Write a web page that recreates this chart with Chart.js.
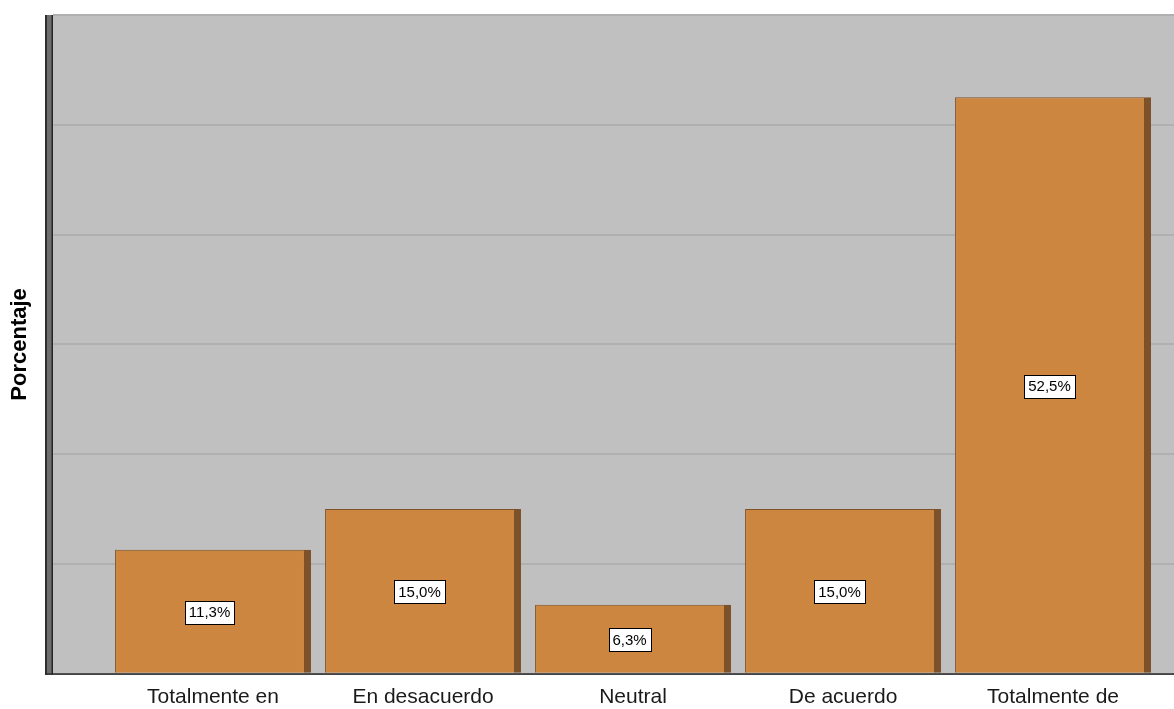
<!DOCTYPE html>
<html>
<head>
<meta charset="utf-8">
<script src="https://cdn.jsdelivr.net/npm/chart.js@4"></script>
<style>
  html, body { margin: 0; padding: 0; background: #ffffff; }
  #wrap { width: 1174px; height: 709px; position: relative; }
</style>
</head>
<body>
<div id="wrap"><canvas id="c"></canvas></div>
<script>
const categories = ["Totalmente en", "En desacuerdo", "Neutral", "De acuerdo", "Totalmente de"];
const percentages = [11.3, 15.0, 6.3, 15.0, 52.5];
const yAxisTitle = "Porcentaje";

const FONT = "'Liberation Sans', Arial, sans-serif";

const plotBackground = {
  id: 'plotBackground',
  beforeDraw(chart) {
    const { ctx, chartArea: a } = chart;
    ctx.save();
    ctx.fillStyle = '#c0c0c0';
    ctx.fillRect(a.left, a.top, a.right - a.left, a.bottom - a.top);
    ctx.restore();
  },
  afterDraw(chart) {
    const { ctx, chartArea: a } = chart;
    ctx.save();
    ctx.fillStyle = '#2e2e2e';
    ctx.fillRect(a.left - 8, a.top, 2, a.bottom - a.top + 1);
    ctx.fillStyle = '#6e6e6e';
    ctx.fillRect(a.left - 6, a.top, 5, a.bottom - a.top + 1);
    ctx.fillStyle = '#262626';
    ctx.fillRect(a.left - 1.5, a.top, 1.5, a.bottom - a.top + 1);
    ctx.fillStyle = '#2a2a2a';
    ctx.fillRect(a.left - 8, a.bottom - 0.5, a.right - a.left + 8, 1.5);
    ctx.restore();
  }
};

const valueLabels = {
  id: 'valueLabels',
  afterDatasetsDraw(chart) {
    const { ctx } = chart;
    const meta = chart.getDatasetMeta(0);
    ctx.save();
    ctx.font = "15px " + FONT;
    ctx.textAlign = 'center';
    ctx.textBaseline = 'middle';
    meta.data.forEach((bar, i) => {
      const p = bar.getProps(['x', 'y', 'base'], true);
      const txt = percentages[i].toFixed(1).replace('.', ',') + '%';
      const w = Math.round(ctx.measureText(txt).width + 8);
      const h = 23;
      const cx = p.x - 3.5;
      const cy = (p.y + p.base) / 2 + 1;
      const bx = Math.round(cx - w / 2) + 0.5;
      const by = Math.round(cy - h / 2) + 0.5;
      ctx.fillStyle = '#ffffff';
      ctx.fillRect(bx, by, w, h);
      ctx.strokeStyle = '#000000';
      ctx.lineWidth = 1;
      ctx.strokeRect(bx, by, w, h);
      ctx.fillStyle = '#000000';
      ctx.fillText(txt, cx, cy + 1);
    });
    ctx.restore();
  }
};

new Chart(document.getElementById('c'), {
  type: 'bar',
  data: {
    datasets: [{
      data: percentages.map((v, i) => ({ x: i, y: v })),
      backgroundColor: '#cc8640',
      borderColor: '#7d5129',
      borderWidth: { top: 1, left: 1, right: 7, bottom: 0 },
      borderSkipped: false,
      barPercentage: 0.933,
      categoryPercentage: 1.0
    }]
  },
  options: {
    responsive: true,
    maintainAspectRatio: false,
    animation: false,
    layout: { padding: { top: 15, right: 0, bottom: -12, left: 0 } },
    plugins: {
      legend: { display: false },
      tooltip: { enabled: false }
    },
    scales: {
      x: {
        type: 'linear',
        offset: false,
        min: -0.762,
        max: 4.576,
        afterBuildTicks(scale) {
          scale.ticks = categories.map((c, i) => ({ value: i }));
        },
        grid: { display: false, drawTicks: false, offset: false },
        border: { display: false },
        ticks: {
          padding: 11,
          color: '#1a1a1a',
          font: { family: FONT, size: 21 },
          maxRotation: 0,
          autoSkip: false,
          callback: (v) => categories[v]
        }
      },
      y: {
        min: 0,
        max: 60,
        ticks: { display: false, stepSize: 10 },
        grid: { color: '#b0b0b0', lineWidth: 2, drawTicks: false },
        border: { display: false },
        title: {
          display: true,
          text: yAxisTitle,
          color: '#000000',
          font: { family: FONT, size: 22, weight: 'bold' },
          padding: { top: 7, bottom: 19.6 }
        }
      }
    }
  },
  plugins: [plotBackground, valueLabels]
});
</script>
</body>
</html>
